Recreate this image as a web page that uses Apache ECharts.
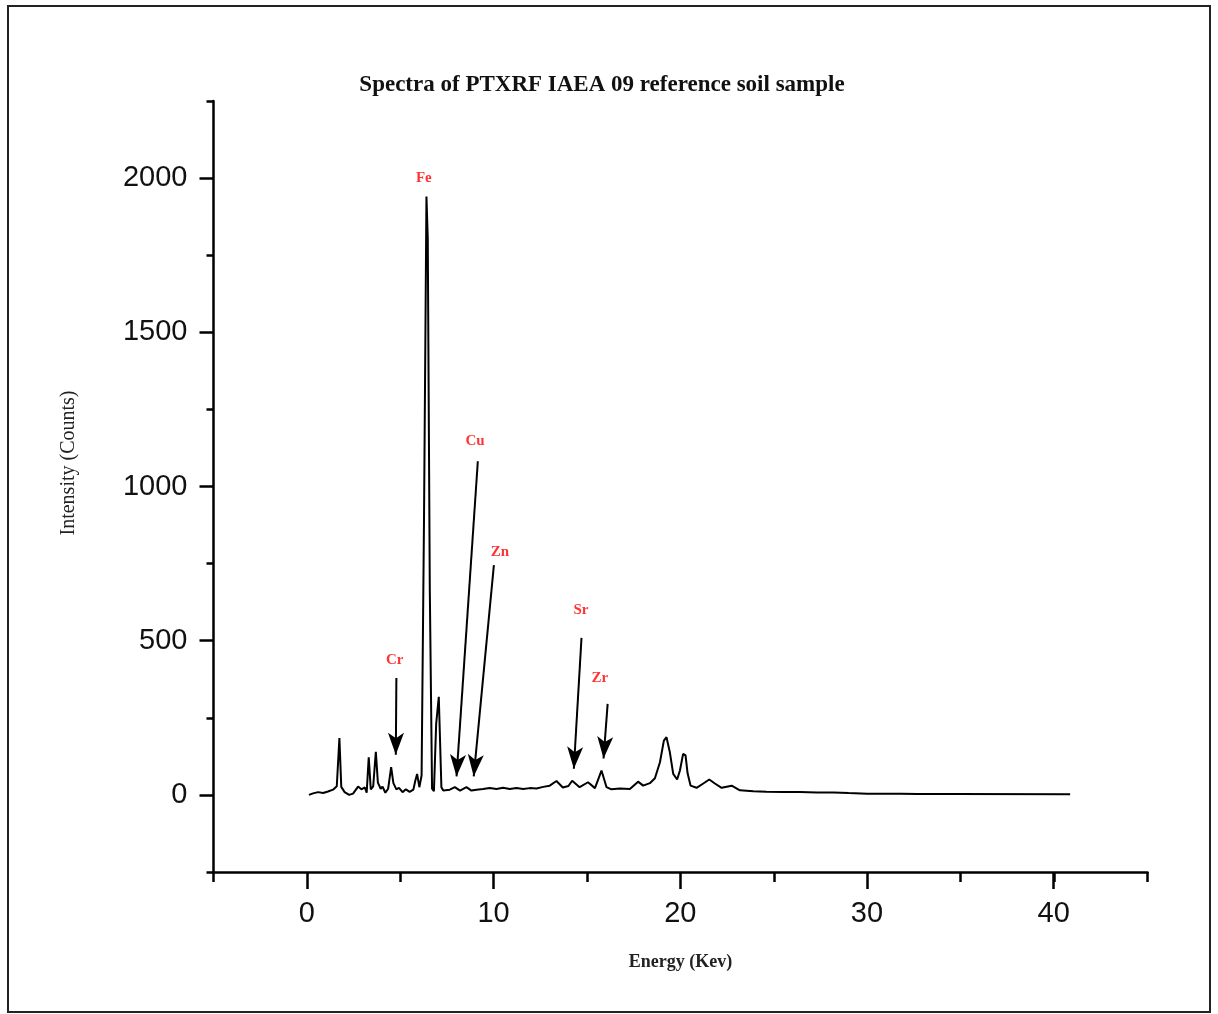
<!DOCTYPE html>
<html><head><meta charset="utf-8">
<script src="https://cdn.jsdelivr.net/npm/echarts@6/dist/echarts.min.js"></script>
<style>html,body{margin:0;padding:0;background:#fff}#c{width:1218px;height:1014px}</style>
</head><body><div id="c"></div>
<script>
// Spectrum: energy (keV) and intensity (counts)
const energy = [0.11,0.33,0.6,0.87,1.13,1.4,1.6,1.74,1.84,2.02,2.26,2.47,2.74,2.92,3.1,3.2,3.31,3.42,3.55,3.69,3.8,3.95,4.05,4.2,4.35,4.51,4.63,4.79,4.93,5.12,5.3,5.5,5.7,5.8,5.9,6.02,6.14,6.27,6.4,6.47,6.58,6.7,6.8,6.92,7.06,7.2,7.3,7.65,7.92,8.2,8.54,8.81,9.08,9.43,9.79,10.15,10.5,10.86,11.22,11.58,11.93,12.29,12.65,13.0,13.36,13.7,14.0,14.2,14.6,15.05,15.42,15.77,16.04,16.3,16.75,17.29,17.73,18.0,18.36,18.63,18.9,19.11,19.25,19.43,19.61,19.82,19.97,20.14,20.27,20.38,20.54,20.86,21.22,21.54,21.84,22.2,22.74,23.18,23.9,24.6,25.5,26.4,27.3,28.2,29.0,30.0,30.9,31.8,32.7,33.5,34.6,40.86];
const counts = [0,5,9,6,11,17,28,184,26,9,0,4,27,18,24,7,122,18,28,140,40,20,27,7,20,90,38,18,23,9,18,10,17,45,68,25,63,900,1940,1805,662,20,12,230,318,25,14,17,25,14,25,14,17,19,22,19,23,19,22,19,22,21,26,30,45,24,29,46,25,41,22,79,25,18,21,19,43,30,38,54,106,176,187,138,68,50,79,133,128,70,30,23,37,50,37,23,30,15,12,10,9,9,8,8,6,4,4,4,3,3,3,2];

// Tick labels
const xTickLabels = [0, 10, 20, 30, 40];
const yTickLabels = [0, 500, 1000, 1500, 2000];

// Element labels (red text) in data units
const peakNames  = ['Fe', 'Cu', 'Zn', 'Cr', 'Sr', 'Zr'];
const peakLabelX = [6.26, 9.0, 10.33, 4.70, 14.67, 15.68];
const peakLabelY = [1999, 1147, 787, 437, 599, 379];

// Arrows pointing at the peaks (from -> to) in data units
const arrowNames = ['Cr', 'Cu', 'Zn', 'Sr', 'Zr'];
const arrowFromX = [4.79, 9.15, 10.01, 14.70, 16.10];
const arrowFromY = [379, 1082, 745, 509, 295];
const arrowToX   = [4.76, 8.01, 8.93, 14.29, 15.88];
const arrowToY   = [130, 60, 60, 85, 118];

const SERIF = '"Liberation Serif","Times New Roman",serif';
const SANS = '"Liberation Sans",Arial,sans-serif';
const BLACK = '#000';

const chart = echarts.init(document.getElementById('c'), null, {renderer: 'canvas'});
const option = {
  animation: false,
  backgroundColor: '#fff',
  title: {
    text: 'Spectra of PTXRF IAEA 09 reference soil sample',
    left: 597, top: 69, textAlign: 'center',
    textStyle: {fontFamily: SERIF, fontWeight: 'bold', fontSize: 23, color: '#111'}
  },
  graphic: [{
    type: 'rect', silent: true, z: 100,
    shape: {x: 8, y: 6, width: 1202, height: 1006},
    style: {fill: 'none', stroke: '#222', lineWidth: 2}
  }],
  grid: [
    {left: 213.5, top: 101, width: 934, height: 771, outerBoundsMode: 'none'},
    {left: 306.9, top: 101, width: 746.8, height: 771, outerBoundsMode: 'none'},
    {left: 213.5, top: 178.1, width: 934, height: 616.8, outerBoundsMode: 'none'}
  ],
  xAxis: [
    {
      gridIndex: 0, type: 'value', min: -5, max: 45, interval: 5,
      axisLine: {show: true, onZero: false, lineStyle: {color: BLACK, width: 2.5}},
      axisTick: {show: true, inside: false, length: 10, lineStyle: {color: BLACK, width: 2.5}},
      axisLabel: {show: false}, splitLine: {show: false},
      name: 'Energy (Kev)', nameLocation: 'middle', nameGap: 81,
      nameTextStyle: {fontFamily: SERIF, fontWeight: 'bold', fontSize: 18, color: '#222'}
    },
    {
      gridIndex: 1, type: 'value', min: 0, max: 40, interval: 10,
      axisLine: {show: false, onZero: false},
      axisTick: {show: true, inside: false, length: 17, lineStyle: {color: BLACK, width: 2.5}},
      axisLabel: {show: true, fontSize: 29, margin: 27, color: '#111', fontFamily: SANS,
        formatter: v => xTickLabels.includes(v) ? String(v) : ''},
      splitLine: {show: false}
    },
    {gridIndex: 2, type: 'value', min: -5, max: 45, show: false}
  ],
  yAxis: [
    {
      gridIndex: 0, type: 'value', min: -250, max: 2250, interval: 250,
      axisLine: {show: true, onZero: false, lineStyle: {color: BLACK, width: 2.5}},
      axisTick: {show: true, inside: false, length: 7, lineStyle: {color: BLACK, width: 2.5}},
      axisLabel: {show: false}, splitLine: {show: false},
      name: 'Intensity (Counts)', nameLocation: 'middle', nameGap: 135, nameRotate: 90,
      nameTextStyle: {fontFamily: SERIF, fontSize: 20, color: '#222', padding: [0, 0, 0, 47]}
    },
    {gridIndex: 1, type: 'value', min: -250, max: 2250, show: false},
    {
      gridIndex: 2, type: 'value', min: 0, max: 2000, interval: 500,
      axisLine: {show: false, onZero: false},
      axisTick: {show: true, inside: false, length: 14, lineStyle: {color: BLACK, width: 2.5}},
      axisLabel: {show: true, fontSize: 29, margin: 26, color: '#111', fontFamily: SANS,
        formatter: v => yTickLabels.includes(v) ? String(v) : ''},
      splitLine: {show: false}
    }
  ],
  series: [
    {
      type: 'line', xAxisIndex: 0, yAxisIndex: 0,
      data: energy.map((e, i) => [e, counts[i]]),
      showSymbol: false, symbol: 'none', smooth: false,
      lineStyle: {color: BLACK, width: 2}, itemStyle: {color: BLACK},
      markLine: {
        silent: true, animation: false,
        symbol: ['none', 'arrow'], symbolSize: [12, 22],
        label: {show: false},
        lineStyle: {color: BLACK, width: 2, type: 'solid'},
        itemStyle: {color: BLACK},
        data: arrowNames.map((n, i) => [
          {coord: [arrowFromX[i], arrowFromY[i]]},
          {coord: [arrowToX[i], arrowToY[i]]}
        ])
      }
    },
    {
      type: 'scatter', xAxisIndex: 0, yAxisIndex: 0, silent: true,
      symbolSize: 1, itemStyle: {color: 'rgba(0,0,0,0)'},
      data: peakNames.map((n, i) => ({name: n, value: [peakLabelX[i], peakLabelY[i]]})),
      label: {show: true, position: 'inside', formatter: '{b}', color: '#ff0000',
        fontFamily: SERIF, fontSize: 15, fontWeight: 'bold'}
    }
  ]
};
chart.setOption(option);
</script>
</body></html>
